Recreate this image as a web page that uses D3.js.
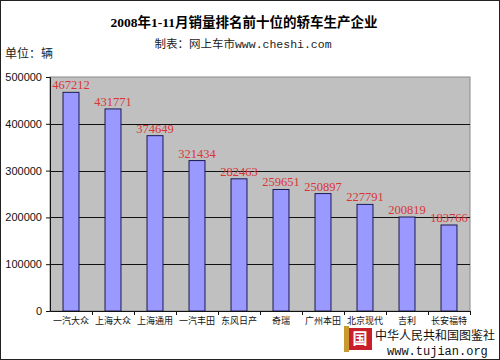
<!DOCTYPE html>
<html><head><meta charset="utf-8">
<script src="https://cdn.jsdelivr.net/npm/d3@7"></script>
<style>body{margin:0;background:#fff}svg{display:block}</style>
</head><body>
<svg id="c" width="500" height="360"></svg>
<script>
const categories = ["一汽大众","上海大众","上海通用","一汽丰田","东风日产","奇瑞","广州本田","北京现代","吉利","长安福特"];
const values = [467212,431771,374649,321434,282463,259651,250897,227791,200819,183766];
const yTicks = [0,100000,200000,300000,400000,500000];
const title = "2008年1-11月销量排名前十位的轿车生产企业";
const subtitle = "制表：网上车市www.cheshi.com";
const unitLabel = "单位：辆";

const svg = d3.select("#c");
const L=50,R=470,T=77,B=311;
const x = d3.scaleBand().domain(categories).range([L,R]).paddingInner(0.62).paddingOuter(0.31);
const xb = d3.scaleBand().domain(categories).range([L,R]);
const y = d3.scaleLinear().domain([0,500000]).range([B,T]);

svg.append("rect").attr("x",0.5).attr("y",0.5).attr("width",499).attr("height",359).attr("fill","#fff").attr("stroke","#222");

svg.append("text").attr("x",244).attr("y",27).attr("text-anchor","middle")
  .attr("font-family","'Liberation Serif','Noto Sans CJK SC'").attr("font-weight","bold").attr("font-size",13.5).text(title);
svg.append("text").attr("x",243).attr("y",48).attr("text-anchor","middle")
  .attr("font-family","'Liberation Mono','Noto Sans CJK SC'").attr("font-size",11.5).attr("fill","#222").text(subtitle);
svg.append("text").attr("x",5).attr("y",58)
  .attr("font-family","'Noto Sans CJK SC'").attr("font-size",12).attr("fill","#222").text(unitLabel);

svg.append("rect").attr("x",L).attr("y",T).attr("width",R-L).attr("height",B-T).attr("fill","#c0c0c0").attr("stroke","#8a8a8a");

svg.append("g").selectAll("line").data(yTicks.filter(d=>d>0&&d<500000)).join("line")
  .attr("x1",L).attr("x2",R).attr("y1",d=>Math.round(y(d))+0.5).attr("y2",d=>Math.round(y(d))+0.5)
  .attr("stroke","#111").attr("stroke-width",1);

svg.append("g").selectAll("rect").data(values).join("rect")
  .attr("x",(d,i)=>x(categories[i])).attr("width",x.bandwidth())
  .attr("y",d=>y(d)).attr("height",d=>B-y(d))
  .attr("fill","#9999ff").attr("stroke","#1a1a50").attr("stroke-width",1);

svg.append("g").selectAll("text").data(values).join("text")
  .attr("x",(d,i)=>x(categories[i])+x.bandwidth()/2).attr("y",d=>y(d)-3)
  .attr("text-anchor","middle").attr("font-family","'Liberation Serif'").attr("font-size",12.5)
  .attr("fill","#d93535").text(d=>d);

const ya = svg.append("g").attr("transform",`translate(${L},0)`)
  .call(d3.axisLeft(y).tickValues(yTicks).tickSize(4).tickPadding(4).tickFormat(d3.format("d")));
ya.select(".domain").attr("stroke","#111");
ya.selectAll(".tick line").attr("stroke","#111");
ya.selectAll("text").attr("font-family","'Liberation Sans','Noto Sans'").attr("font-size",11).attr("fill","#111");

const xa = svg.append("g").attr("transform",`translate(0,${B})`)
  .call(d3.axisBottom(xb).tickSize(0).tickPadding(7));
xa.select(".domain").attr("stroke","#111");
xa.selectAll("text").attr("font-family","'Noto Sans CJK SC'").attr("font-size",9).attr("fill","#111");
svg.append("g").selectAll("line").data(categories).join("line")
  .attr("x1",(d,i)=>Math.round(L+xb.bandwidth()*(i+1))+0.5).attr("x2",(d,i)=>Math.round(L+xb.bandwidth()*(i+1))+0.5)
  .attr("y1",B).attr("y2",B+4).attr("stroke","#111");

// watermark
const wm = svg.append("g");
wm.append("rect").attr("x",347).attr("y",328).attr("width",25).attr("height",22).attr("fill","#c8202a");
wm.append("rect").attr("x",344).attr("y",326).attr("width",5).attr("height",26).attr("fill","#c89a30");
wm.append("text").attr("x",360).attr("y",344).attr("text-anchor","middle").attr("font-family","'Noto Sans CJK SC'")
  .attr("font-weight","bold").attr("font-size",15).attr("fill","#fff").text("国");
wm.append("text").attr("x",375).attr("y",340).attr("font-family","'Noto Sans CJK SC'").attr("font-size",12).attr("fill","#111").text("中华人民共和国图鉴社");
wm.append("text").attr("x",387).attr("y",355).attr("font-family","'Liberation Mono'").attr("font-size",12).attr("fill","#111").text("www.tujian.org");
</script>
</body></html>
